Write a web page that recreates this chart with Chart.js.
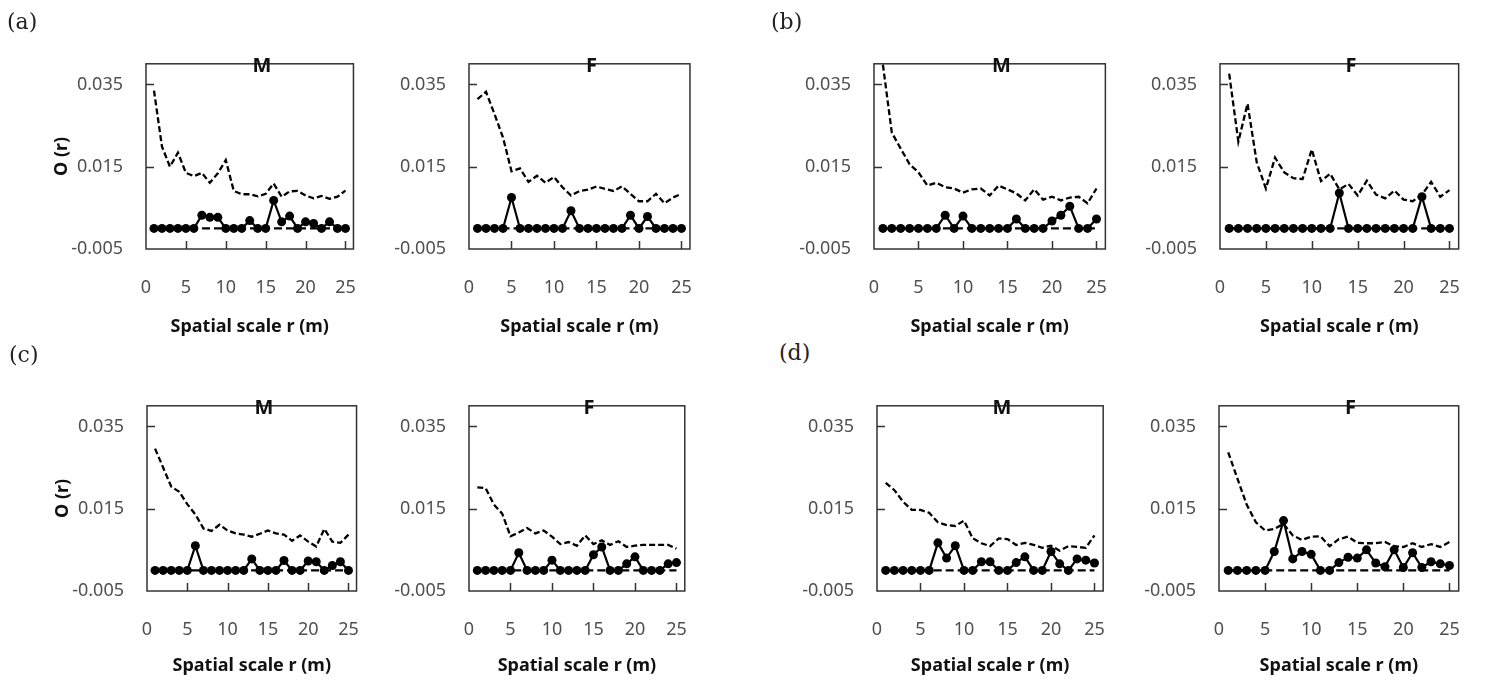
<!DOCTYPE html>
<html>
<head>
<meta charset="utf-8">
<script src="https://cdn.jsdelivr.net/npm/chart.js@4.4.1/dist/chart.umd.min.js"></script>
<style>
    body { margin: 0; width: 1489px; height: 681px; background: #fff; position: relative; overflow: hidden; font-family: 'Noto Sans', sans-serif; }
    canvas { position: absolute; }
    .tag { position: absolute; font-family: 'DejaVu Serif', serif; font-size: 22px; line-height: 22px; color: #222; }
    .sex { position: absolute; font-family: 'Noto Sans', sans-serif; font-weight: bold; font-size: 20px; line-height: 20px; color: #111; transform: translate(-50%, -50%); }
</style>
</head>
<body>
<script>
// --- Data ---
const rValues = [1, 2, 3, 4, 5, 6, 7, 8, 9, 10, 11, 12, 13, 14, 15, 16, 17, 18, 19, 20, 21, 22, 23, 24, 25];
const xTickValues = [0, 5, 10, 15, 20, 25];
const yTickValues = [-0.005, 0.015, 0.035];
const yTickLabels = ['-0.005', '0.015', '0.035'];

const lowerEnvelope = [0, 0, 0, 0, 0, 0, 0, 0, 0, 0, 0, 0, 0, 0, 0, 0, 0, 0, 0, 0, 0, 0, 0, 0, 0];

const aM_upper = [0.0335, 0.0199, 0.0150, 0.0184, 0.0135, 0.0127, 0.0135, 0.0111, 0.0134, 0.0166, 0.0091, 0.0083, 0.0083, 0.0078, 0.0084, 0.0109, 0.0077, 0.0090, 0.0091, 0.0080, 0.0073, 0.0079, 0.0072, 0.0077, 0.0092];
const aM_obs   = [0, 0, 0, 0, 0, 0, 0.0032, 0.0027, 0.0027, 0, 0, 0, 0.0019, 0, 0, 0.0068, 0.0016, 0.0030, 0, 0.0016, 0.0012, 0, 0.0016, 0, 0];

const aF_upper = [0.0314, 0.0332, 0.0278, 0.0221, 0.0139, 0.0146, 0.0113, 0.0128, 0.0111, 0.0125, 0.0100, 0.0080, 0.0091, 0.0094, 0.0102, 0.0096, 0.0091, 0.0102, 0.0084, 0.0066, 0.0066, 0.0084, 0.0061, 0.0075, 0.0084];
const aF_obs   = [0, 0, 0, 0, 0.0075, 0, 0, 0, 0, 0, 0, 0.0043, 0, 0, 0, 0, 0, 0, 0.0032, 0, 0.0029, 0, 0, 0, 0];

const bM_upper = [0.0398, 0.0233, 0.0194, 0.0156, 0.0136, 0.0104, 0.0111, 0.0100, 0.0097, 0.0087, 0.0095, 0.0097, 0.0080, 0.0104, 0.0095, 0.0085, 0.0068, 0.0095, 0.0070, 0.0077, 0.0068, 0.0075, 0.0077, 0.0061, 0.0097];
const bM_obs   = [0, 0, 0, 0, 0, 0, 0, 0.0032, 0, 0.0030, 0, 0, 0, 0, 0, 0.0023, 0, 0, 0, 0.0018, 0.0032, 0.0054, 0, 0, 0.0023];

const bF_upper = [0.0376, 0.0211, 0.0303, 0.0161, 0.0097, 0.0172, 0.0136, 0.0122, 0.0120, 0.0192, 0.0115, 0.0133, 0.0095, 0.0108, 0.0080, 0.0116, 0.0082, 0.0073, 0.0092, 0.0070, 0.0066, 0.0082, 0.0113, 0.0077, 0.0093];
const bF_obs   = [0, 0, 0, 0, 0, 0, 0, 0, 0, 0, 0, 0, 0.0086, 0, 0, 0, 0, 0, 0, 0, 0, 0.0077, 0, 0, 0];

const cM_upper = [0.0296, 0.0250, 0.0204, 0.0191, 0.0161, 0.0136, 0.0102, 0.0096, 0.0111, 0.0097, 0.0090, 0.0087, 0.0082, 0.0089, 0.0097, 0.0090, 0.0087, 0.0072, 0.0085, 0.0070, 0.0058, 0.0101, 0.0070, 0.0067, 0.0087];
const cM_obs   = [0, 0, 0, 0, 0, 0.0060, 0, 0, 0, 0, 0, 0, 0.0028, 0, 0, 0, 0.0024, 0, 0, 0.0023, 0.0021, 0, 0.0012, 0.0021, 0];

const cF_upper = [0.0202, 0.0200, 0.0160, 0.0138, 0.0083, 0.0092, 0.0103, 0.0090, 0.0097, 0.0082, 0.0064, 0.0069, 0.0060, 0.0085, 0.0064, 0.0073, 0.0062, 0.0071, 0.0057, 0.0060, 0.0062, 0.0062, 0.0062, 0.0062, 0.0053];
const cF_obs   = [0, 0, 0, 0, 0, 0.0043, 0, 0, 0, 0.0025, 0, 0, 0, 0, 0.0038, 0.0057, 0, 0, 0.0016, 0.0033, 0, 0, 0, 0.0016, 0.0019];

const dM_upper = [0.0213, 0.0195, 0.0167, 0.0147, 0.0147, 0.0140, 0.0117, 0.0110, 0.0108, 0.0121, 0.0078, 0.0066, 0.0059, 0.0078, 0.0076, 0.0062, 0.0067, 0.0062, 0.0055, 0.0060, 0.0048, 0.0059, 0.0057, 0.0055, 0.0085];
const dM_obs   = [0, 0, 0, 0, 0, 0, 0.0067, 0.0030, 0.0060, 0, 0, 0.0021, 0.0021, 0, 0, 0.0019, 0.0033, 0, 0, 0.0046, 0.0016, 0, 0.0028, 0.0025, 0.0018];

const dF_upper = [0.0287, 0.0223, 0.0160, 0.0117, 0.0097, 0.0101, 0.0113, 0.0085, 0.0074, 0.0082, 0.0083, 0.0059, 0.0076, 0.0082, 0.0067, 0.0066, 0.0066, 0.0069, 0.0059, 0.0057, 0.0066, 0.0057, 0.0064, 0.0057, 0.0069];
const dF_obs   = [0, 0, 0, 0, 0, 0.0046, 0.0121, 0.0028, 0.0046, 0.0039, 0, 0, 0.0019, 0.0032, 0.0030, 0.0050, 0.0018, 0.0009, 0.0050, 0.0007, 0.0043, 0.0007, 0.0021, 0.0016, 0.0012];

// --- Layout: plot box [left, top, right, bottom] of each panel ---
const Y_AXIS_W = 110;
const PAD_TOP = 10;
const PAD_RIGHT = 6;

const panels = [
    { label: 'M', box: [146, 40, 378, 249], bottom: 89, yTitle: true,  obs: aM_obs, upper: aM_upper },
    { label: 'F', box: [469, 40, 714, 249], bottom: 89, yTitle: false, obs: aF_obs, upper: aF_upper },
    { label: 'M', box: [874, 40, 1129, 249], bottom: 89, yTitle: false, obs: bM_obs, upper: bM_upper },
    { label: 'F', box: [1220, 40, 1482, 249], bottom: 89, yTitle: false, obs: bF_obs, upper: bF_upper },
    { label: 'M', box: [147, 382, 381, 591], bottom: 86, yTitle: true,  obs: cM_obs, upper: cM_upper },
    { label: 'F', box: [469, 382, 709, 591], bottom: 86, yTitle: false, obs: cF_obs, upper: cF_upper },
    { label: 'M', box: [877, 382, 1127, 591], bottom: 86, yTitle: false, obs: dM_obs, upper: dM_upper },
    { label: 'F', box: [1219, 382, 1482, 591], bottom: 86, yTitle: false, obs: dF_obs, upper: dF_upper }
];

const tags = [
    { text: '(a)', x: 7, y: 11 },
    { text: '(b)', x: 771, y: 11 },
    { text: '(c)', x: 9, y: 344 },
    { text: '(d)', x: 779, y: 342 }
];

// box outline + inward tick marks
const framePlugin = {
    id: 'frame',
    beforeDatasetsDraw(chart) {
        const { ctx, chartArea: a, scales: { x, y } } = chart;
        ctx.save();
        ctx.strokeStyle = '#333';
        ctx.lineWidth = 1.5;
        ctx.strokeRect(a.left, a.top, a.right - a.left, a.bottom - a.top);
        ctx.beginPath();
        x.ticks.forEach(t => {
            if (t.value <= x.min) return;
            const px = Math.round(x.getPixelForValue(t.value)) + 0.5;
            ctx.moveTo(px, a.bottom);
            ctx.lineTo(px, a.bottom - 8);
        });
        y.ticks.forEach(t => {
            if (t.value <= y.min) return;
            const py = Math.round(y.getPixelForValue(t.value)) + 0.5;
            ctx.moveTo(a.left, py);
            ctx.lineTo(a.left + 8, py);
        });
        ctx.stroke();
        ctx.restore();
    }
};

function toPoints(values) {
    return rValues.map((r, i) => ({ x: r, y: values[i] }));
}

function makePanel(p) {
    const [l, t, r, b] = p.box;
    const w = (r - l) + Y_AXIS_W + PAD_RIGHT;
    const h = (b - t) + PAD_TOP + p.bottom;
    const canvas = document.createElement('canvas');
    canvas.width = w;
    canvas.height = h;
    canvas.style.left = (l - Y_AXIS_W) + 'px';
    canvas.style.top = (t - PAD_TOP) + 'px';
    canvas.style.width = w + 'px';
    canvas.style.height = h + 'px';
    document.body.appendChild(canvas);

    const sex = document.createElement('div');
    sex.className = 'sex';
    sex.textContent = p.label;
    sex.style.left = ((l + r) / 2) + 'px';
    sex.style.top = (t + 25) + 'px';
    document.body.appendChild(sex);

    new Chart(canvas, {
        type: 'line',
        data: {
            datasets: [
                {
                    data: toPoints(p.obs),
                    borderColor: '#000',
                    backgroundColor: '#000',
                    borderWidth: 2.2,
                    pointRadius: 4.5,
                    pointBackgroundColor: '#000',
                    pointBorderWidth: 0,
                    tension: 0,
                    order: 0
                },
                {
                    data: toPoints(p.upper),
                    borderColor: '#000',
                    borderWidth: 2.3,
                    borderDash: [6, 3],
                    pointRadius: 0,
                    tension: 0,
                    order: 1
                },
                {
                    data: toPoints(lowerEnvelope),
                    borderColor: '#000',
                    borderWidth: 2.3,
                    borderDash: [8, 4],
                    pointRadius: 0,
                    tension: 0,
                    order: 2
                }
            ]
        },
        options: {
            responsive: false,
            animation: false,
            devicePixelRatio: 1,
            layout: { padding: { left: 0, top: PAD_TOP, right: PAD_RIGHT, bottom: 0 } },
            plugins: { legend: { display: false }, tooltip: { enabled: false } },
            scales: {
                x: {
                    type: 'linear',
                    min: 0,
                    max: 26,
                    afterBuildTicks: s => { s.ticks = xTickValues.map(v => ({ value: v })); },
                    afterFit: s => { s.height = p.bottom; },
                    grid: { display: false, drawTicks: false },
                    border: { display: false },
                    ticks: {
                        padding: 28,
                        maxRotation: 0,
                        autoSkip: false,
                        color: '#505050',
                        font: { family: 'Noto Sans', size: 18 }
                    },
                    title: {
                        display: true,
                        text: 'Spatial scale r (m)',
                        color: '#111',
                        padding: { top: 0, bottom: 0 },
                        font: { family: 'Noto Sans', size: 18, weight: 'bold' }
                    }
                },
                y: {
                    min: -0.005,
                    max: 0.04,
                    afterBuildTicks: s => { s.ticks = yTickValues.map(v => ({ value: v })); },
                    afterFit: s => { s.width = Y_AXIS_W; },
                    grid: { display: false, drawTicks: false },
                    border: { display: false },
                    ticks: {
                        padding: 23,
                        color: '#505050',
                        font: { family: 'Noto Sans', size: 18 },
                        callback: (v, i) => yTickLabels[i]
                    },
                    title: {
                        display: p.yTitle,
                        text: 'O (r)',
                        color: '#111',
                        padding: { top: 15, bottom: 0 },
                        font: { family: 'Noto Sans', size: 18, weight: 'bold' }
                    }
                }
            }
        },
        plugins: [framePlugin]
    });
}

panels.forEach(makePanel);

tags.forEach(tg => {
    const el = document.createElement('div');
    el.className = 'tag';
    el.textContent = tg.text;
    el.style.left = tg.x + 'px';
    el.style.top = tg.y + 'px';
    document.body.appendChild(el);
});
</script>
</body>
</html>
